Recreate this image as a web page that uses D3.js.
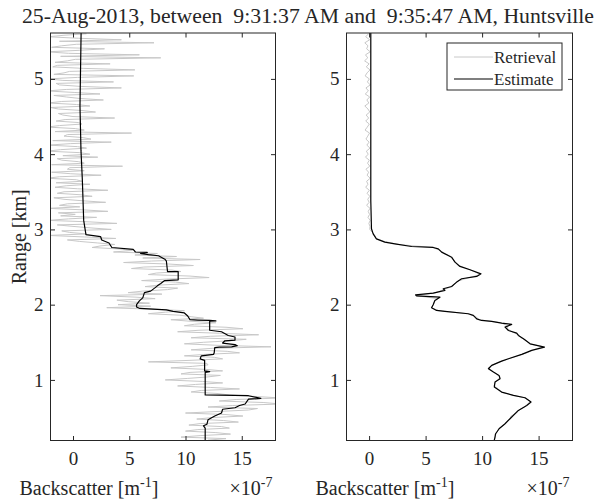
<!DOCTYPE html>
<html>
<head>
<meta charset="utf-8">
<script src="https://cdn.jsdelivr.net/npm/d3@7"></script>
<style>
body { margin: 0; background: #fff; }
text { font-family: "Liberation Serif", "Times New Roman", serif; fill: #262626; }
</style>
</head>
<body>
<div id="chart"></div>
<script>
// range grid (km), top to bottom, 0.02 km steps
var rangeKm = [
  5.60,5.58,5.56,5.54,5.52,5.50,5.48,5.46,5.44,5.42,5.40,5.38,5.36,5.34,5.32,5.30,5.28,5.26,5.24,5.22,
  5.20,5.18,5.16,5.14,5.12,5.10,5.08,5.06,5.04,5.02,5.00,4.98,4.96,4.94,4.92,4.90,4.88,4.86,4.84,4.82,
  4.80,4.78,4.76,4.74,4.72,4.70,4.68,4.66,4.64,4.62,4.60,4.58,4.56,4.54,4.52,4.50,4.48,4.46,4.44,4.42,
  4.40,4.38,4.36,4.34,4.32,4.30,4.28,4.26,4.24,4.22,4.20,4.18,4.16,4.14,4.12,4.10,4.08,4.06,4.04,4.02,
  4.00,3.98,3.96,3.94,3.92,3.90,3.88,3.86,3.84,3.82,3.80,3.78,3.76,3.74,3.72,3.70,3.68,3.66,3.64,3.62,
  3.60,3.58,3.56,3.54,3.52,3.50,3.48,3.46,3.44,3.42,3.40,3.38,3.36,3.34,3.32,3.30,3.28,3.26,3.24,3.22,
  3.20,3.18,3.16,3.14,3.12,3.10,3.08,3.06,3.04,3.02,3.00,2.98,2.96,2.94,2.92,2.90,2.88,2.86,2.84,2.82,
  2.80,2.78,2.76,2.74,2.72,2.70,2.68,2.66,2.64,2.62,2.60,2.58,2.56,2.54,2.52,2.50,2.48,2.46,2.44,2.42,
  2.40,2.38,2.36,2.34,2.32,2.30,2.28,2.26,2.24,2.22,2.20,2.18,2.16,2.14,2.12,2.10,2.08,2.06,2.04,2.02,
  2.00,1.98,1.96,1.94,1.92,1.90,1.88,1.86,1.84,1.82,1.80,1.78,1.76,1.74,1.72,1.70,1.68,1.66,1.64,1.62,
  1.60,1.58,1.56,1.54,1.52,1.50,1.48,1.46,1.44,1.42,1.40,1.38,1.36,1.34,1.32,1.30,1.28,1.26,1.24,1.22,
  1.20,1.18,1.16,1.14,1.12,1.10,1.08,1.06,1.04,1.02,1.00,0.98,0.96,0.94,0.92,0.90,0.88,0.86,0.84,0.82,
  0.80,0.78,0.76,0.74,0.72,0.70,0.68,0.66,0.64,0.62,0.60,0.58,0.56,0.54,0.52,0.50,0.48,0.46,0.44,0.42,
  0.40,0.38,0.36,0.34,0.32,0.30,0.28,0.26,0.24,0.22,0.20
];

// backscatter retrieval, x 1e-7 m^-1, left panel (one value per range above)
var retLeft = [
  1.2,-0.8,-2.2,0.5,4.3,-1.2,7.2,0.3,-1.0,-1.9,2.8,0.6,-2.3,-0.4,5.9,-1.1,7.8,0.2,-0.5,-1.6,
  3.3,-1.4,-1.8,0.9,5.5,-0.3,-0.8,-1.7,5.4,0.4,-2.2,-0.9,3.6,-1.5,-1.2,0.7,4.3,-0.6,-2.3,0.1,
  2.4,-1.7,-0.6,0.6,2.7,-1.0,-2.2,0.3,1.5,-2.0,-1.3,0.8,2.0,-1.3,-0.9,0.0,3.7,-0.7,-1.5,0.5,
  0.8,-1.2,-2.3,0.2,1.0,-1.6,5.2,-0.5,-0.8,0.9,1.6,-1.8,3.4,-0.2,-2.2,0.4,1.2,-1.1,-2.3,0.6,
  1.5,-0.9,2.2,-1.4,-1.0,0.5,1.0,-1.9,4.4,-0.3,-0.5,1.0,-1.9,-0.2,2.5,-1.2,-2.3,0.3,0.8,-1.5,
  1.5,-0.6,-1.6,0.4,3.1,-0.8,-1.4,0.7,1.7,-1.7,-0.8,0.9,2.9,-0.5,-1.2,0.6,-2.2,0.9,3.1,-1.3,
  0.2,-1.1,2.1,-0.4,-2.2,1.5,3.9,-1.4,0.0,1.6,3.4,-1.0,-0.3,1.2,-2.2,1.0,3.8,-0.5,0.6,2.2,
  3.7,2.4,1.7,4.1,5.3,3.6,7.5,5.5,9.2,6.2,11.3,7.0,4.5,8.5,10.7,6.3,5.2,8.8,9.6,7.4,
  6.7,10.4,12.1,8.3,6.1,9.1,10.3,7.6,6.4,9.3,8.4,6.2,4.9,7.9,2.4,5.6,7.3,3.9,4.9,6.8,
  4.0,6.9,3.0,7.0,9.9,8.2,6.7,9.5,10.5,11.6,8.7,10.4,12.7,10.8,9.9,13.6,15.1,11.2,9.3,13.0,
  16.5,12.2,10.5,15.4,14.0,11.6,9.9,12.8,17.6,12.4,10.5,13.7,14.8,11.8,9.9,12.6,13.3,10.4,6.7,11.9,
  12.0,10.6,8.7,11.8,13.3,10.4,9.6,13.1,12.0,10.2,8.2,11.5,13.3,10.9,9.3,12.2,14.8,11.4,10.5,12.8,
  13.9,16.2,18.5,14.5,13.0,16.9,18.5,14.2,12.0,16.4,15.6,12.8,10.0,13.6,15.1,12.4,11.0,13.4,14.7,11.3,
  10.3,13.2,13.9,11.1,10.0,12.7,14.0,11.3,9.6,13.6,12.0
];

// backscatter retrieval, right panel (every second range value, 0.04 km steps)
var retRight = [
  -0.05,-0.30,0.05,-0.38,-0.10,-0.22,0.10,-0.32,-0.12,-0.40,
  0.00,-0.25,0.08,-0.18,-0.35,0.02,-0.15,0.10,-0.28,-0.06,
  -0.34,0.05,-0.20,-0.02,-0.38,-0.10,0.06,-0.26,-0.04,-0.30,
  0.02,-0.16,-0.36,0.04,-0.12,-0.28,0.00,-0.20,0.08,-0.24,
  -0.08,-0.32,0.02,-0.14,0.06,-0.28,-0.04,-0.18,0.10,-0.22,
  -0.10,-0.30,0.02,-0.18,0.06,-0.12,0.00,-0.22,0.08,-0.08,
  0.04,-0.10,0.10,-0.02,0.08,0.06,0.30,0.50,0.60,1.35,
  2.60,5.60,6.35,6.60,7.25,7.40,7.70,7.90,8.65,9.30,
  9.85,8.85,8.00,7.55,7.35,6.60,5.90,4.10,6.10,5.75,
  5.70,5.50,6.15,8.70,9.45,9.75,11.65,12.25,12.25,12.65,
  13.25,13.45,13.95,14.20,15.40,14.55,13.95,13.15,12.35,11.55,
  10.95,10.55,10.90,11.25,11.60,11.40,11.15,11.05,11.45,11.65,
  12.65,13.80,14.25,14.05,13.75,13.25,13.05,12.55,12.45,12.15,
  11.95,11.55,11.40,11.15,11.20,11.05
];

// estimate, left panel (range km / value)
var estLeftKm = [
  5.61,4.64,4.05,3.66,3.12,2.93,2.905,2.86,2.82,2.76,
  2.735,2.70,2.695,2.68,2.665,2.65,2.60,2.58,2.44,2.44,
  2.33,2.32,2.28,2.25,2.22,2.18,2.16,2.09,2.05,2.00,
  1.97,1.95,1.93,1.91,1.89,1.85,1.80,1.795,1.79,1.785,
  1.78,1.66,1.64,1.59,1.57,1.53,1.52,1.49,1.47,1.455,
  1.44,1.435,1.43,1.36,1.34,1.32,1.28,1.26,1.12,1.11,
  1.10,0.80,0.79,0.755,0.745,0.68,0.66,0.63,0.61,0.56,
  0.52,0.47,0.41,0.39,0.36,0.195
];
var estLeftVal = [
  0.72,0.62,0.71,0.83,0.95,1.15,2.45,2.55,3.2,3.45,
  5.35,5.55,6.6,6.0,6.7,7.6,8.2,8.3,8.4,9.35,
  9.35,8.15,7.8,7.5,7.25,6.9,6.35,6.2,5.9,5.65,
  5.65,5.95,8.3,8.9,9.9,10.2,10.4,11.1,12.15,12.7,
  12.15,12.15,13.2,13.8,14.4,14.4,13.5,13.3,14.4,14.6,
  14.1,13.0,12.6,12.55,12.5,11.4,11.3,11.7,11.7,12.15,
  11.75,11.75,15.6,16.7,15.6,15.3,14.8,14.4,13.3,13.2,
  12.6,12.0,11.9,11.6,11.75,11.75
];

// estimate, right panel
var estRightKm = [
  5.61,3.38,3.008,2.941,2.875,2.831,2.809,2.773,2.760,2.742,
  2.698,2.631,2.565,2.508,2.464,2.410,2.375,2.344,2.300,2.242,
  2.211,2.189,2.154,2.131,2.118,2.100,2.056,2.003,1.959,1.923,
  1.910,1.879,1.857,1.812,1.790,1.777,1.755,1.737,1.701,1.657,
  1.622,1.591,1.547,1.480,1.436,1.392,1.339,1.281,1.250,1.193,
  1.148,1.104,1.060,1.016,0.971,0.905,0.838,0.794,0.763,0.706,
  0.661,0.595,0.484,0.418,0.351,0.285,0.197
];
var estRightVal = [
  0.15,0.15,0.21,0.36,0.65,1.39,2.28,3.76,5.68,6.12,
  6.42,7.30,7.60,8.04,8.93,9.90,9.52,8.19,7.75,7.30,
  6.56,6.71,5.68,4.11,4.20,6.27,5.82,5.68,5.53,5.97,
  6.71,8.78,9.22,9.52,9.96,10.85,11.73,12.62,12.03,12.33,
  13.06,13.21,13.66,14.25,15.52,14.39,13.51,12.33,11.73,10.85,
  10.56,11.00,11.50,11.59,11.14,11.08,11.73,12.77,13.80,14.33,
  13.95,13.21,12.47,12.03,11.50,11.20,11.08
];

var xTicks = [0, 5, 10, 15];
var yTicks = [1, 2, 3, 4, 5];
var xDomain = [-2, 18];
var yDomain = [0.195, 5.61];
var legendLabels = ["Retrieval", "Estimate"];
var titleText = "25-Aug-2013, between  9:31:37 AM and  9:35:47 AM, Huntsville";

var wd = 597, ht = 502;
var plotTop = 33, plotBottom = 440.5;
var axisColor = "#262626";
var retColor = "#c8c8c8";

var svg = d3.select("#chart").append("svg").attr("width", wd).attr("height", ht);

var rangeCoarse = rangeKm.filter(function(d, i) { return i % 2 == 0; });

var panels = [
  { id: "l", left: 50.5, right: 275.5, retKm: rangeKm, ret: retLeft, estKm: estLeftKm, estVal: estLeftVal },
  { id: "r", left: 346.5, right: 572.5, retKm: rangeCoarse, ret: retRight, estKm: estRightKm, estVal: estRightVal }
];

panels.forEach(function(p)
{
  var xScale = d3.scaleLinear().domain(xDomain).range([p.left, p.right]);
  var yScale = d3.scaleLinear().domain(yDomain).range([plotBottom, plotTop]);

  svg.append("clipPath").attr("id", "clip" + p.id)
     .append("rect")
     .attr("x", p.left).attr("y", plotTop)
     .attr("width", p.right - p.left).attr("height", plotBottom - plotTop);

  var line = d3.line()
               .x(function(d) { return xScale(d[0]); })
               .y(function(d) { return yScale(d[1]); });

  var g = svg.append("g").attr("clip-path", "url(#clip" + p.id + ")");

  g.append("path")
   .datum(p.retKm.map(function(k, i) { return [p.ret[i], k]; }))
   .attr("d", line)
   .attr("fill", "none")
   .attr("stroke", retColor)
   .attr("stroke-width", 1);

  g.append("path")
   .datum(p.estKm.map(function(k, i) { return [p.estVal[i], k]; }))
   .attr("d", line)
   .attr("fill", "none")
   .attr("stroke", "#000")
   .attr("stroke-width", 1.2)
   .attr("stroke-linejoin", "round");

  // axes, ticks pointing inward on all four sides
  var axes = [
    { ax: d3.axisBottom(xScale).tickValues(xTicks).tickFormat(d3.format("d")).tickPadding(11), t: "translate(0," + plotBottom + ")" },
    { ax: d3.axisTop(xScale).tickValues(xTicks).tickFormat(""), t: "translate(0," + plotTop + ")" },
    { ax: d3.axisLeft(yScale).tickValues(yTicks).tickFormat(d3.format("d")).tickPadding(7), t: "translate(" + p.left + ",0)" },
    { ax: d3.axisRight(yScale).tickValues(yTicks).tickFormat(""), t: "translate(" + p.right + ",0)" }
  ];
  axes.forEach(function(a)
  {
    var ag = svg.append("g").attr("transform", a.t).call(a.ax.tickSize(-4.5));
    ag.select(".domain").remove();
    ag.attr("font-family", null).attr("font-size", 19);
    ag.selectAll("line").attr("stroke", axisColor);
    ag.selectAll("text").attr("fill", axisColor);
  });

  svg.append("rect")
     .attr("x", p.left).attr("y", plotTop)
     .attr("width", p.right - p.left).attr("height", plotBottom - plotTop)
     .attr("fill", "none")
     .attr("stroke", axisColor)
     .attr("stroke-width", 1);

  // x label with superscript
  var xl = svg.append("text")
              .attr("x", p.left - 31)
              .attr("y", 495)
              .style("font-size", "20px");
  xl.append("tspan").text("Backscatter [m");
  xl.append("tspan").attr("dy", -8).style("font-size", "14px").text("-1");
  xl.append("tspan").attr("dy", 8).text("]");

  var ex = svg.append("text")
              .attr("x", p.right - 46)
              .attr("y", 495)
              .style("font-size", "20px");
  ex.append("tspan").text("\u00d710");
  ex.append("tspan").attr("dy", -8).style("font-size", "14px").text("-7");
});

// y label
svg.append("text")
   .attr("transform", "translate(26," + ((plotTop + plotBottom) / 2) + ") rotate(-90)")
   .attr("text-anchor", "middle")
   .style("font-size", "20px")
   .text("Range [km]");

// title
svg.append("text")
   .attr("x", 22)
   .attr("y", 22.5)
   .attr("textLength", 572)
   .attr("lengthAdjust", "spacingAndGlyphs")
   .style("font-size", "20.5px")
   .style("white-space", "pre")
   .text(titleText);

// legend
var lg = svg.append("g").attr("transform", "translate(447,43)");
lg.append("rect").attr("width", 115).attr("height", 47)
  .attr("fill", "#fff").attr("stroke", axisColor).attr("stroke-width", 1);
var legColors = [retColor, "#000"];
legendLabels.forEach(function(lab, i)
{
  var yy = 14 + i * 22;
  lg.append("line").attr("x1", 7).attr("x2", 46).attr("y1", yy).attr("y2", yy)
    .attr("stroke", legColors[i]).attr("stroke-width", i == 0 ? 1 : 1.2);
  lg.append("text").attr("x", 47).attr("y", yy + 6)
    .style("font-size", "17px").text(lab);
});
</script>
</body>
</html>
